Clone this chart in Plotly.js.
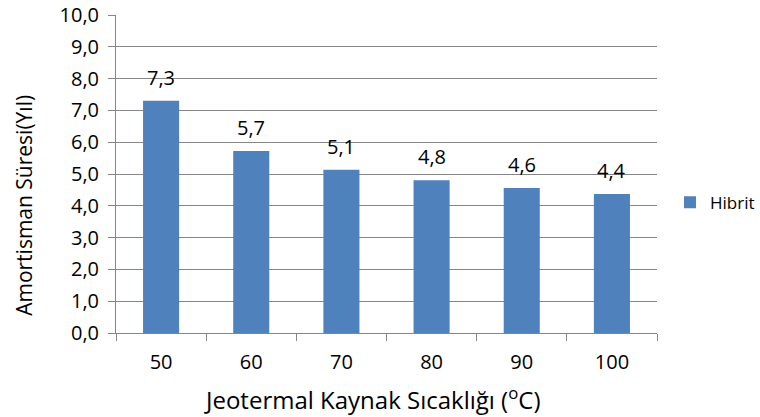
<!DOCTYPE html>
<html><head><meta charset="utf-8">
<script src="https://cdn.plot.ly/plotly-3.0.1.min.js"></script>
<style>body{margin:0;background:#fff}#c{width:760px;height:417px}</style>
</head><body><div id="c"></div>
<script>
const categories = ['50','60','70','80','90','100'];
const hibrit = [7.3, 5.72, 5.13, 4.8, 4.56, 4.37];
const seriesName = 'Hibrit';
const yTicks = [0,1,2,3,4,5,6,7,8,9,10];
const xTitle = 'Jeotermal Kaynak Sıcaklığı (<sup>o</sup>C)';
const yTitle = 'Amortisman Süresi(Yıl)';

const font = '"Open Sans", sans-serif';
const fmt = v => v.toFixed(1).replace('.', ',');

const annotations = categories.map((c, i) => ({
  x: i, y: hibrit[i], xref: 'x', yref: 'y', text: fmt(hibrit[i]),
  showarrow: false, yanchor: 'bottom', yshift: 8,
  font: {family: font, size: 20, color: '#000'}
}));
annotations.push({
  xref: 'paper', yref: 'paper', x: -0.17, y: 0.40, text: yTitle, textangle: -90,
  showarrow: false, xanchor: 'center', yanchor: 'middle',
  font: {family: font, size: 21, color: '#000'}
});
annotations.push({
  xref: 'paper', yref: 'paper', x: 0.475, y: -0.205, text: xTitle,
  showarrow: false, xanchor: 'center', yanchor: 'middle',
  font: {family: font, size: 24, color: '#000'}
});

Plotly.newPlot('c', [{
  type: 'bar', x: categories, y: hibrit, name: seriesName,
  marker: {color: '#4F81BD', line: {width: 0}},
  width: 0.4
}], {
  width: 760, height: 417,
  margin: {l: 116, r: 103, t: 15, b: 84, autoexpand: false},
  separators: ',.',
  showlegend: true,
  legend: {x: 1.024, y: 0.41, yanchor: 'middle', xanchor: 'left', font: {family: font, size: 17, color: '#000'}, itemwidth: 30},
  paper_bgcolor: '#fff', plot_bgcolor: '#fff',
  annotations: annotations,
  xaxis: {
    type: 'category', range: [-0.5, 5.5], showgrid: false, showline: true, linecolor: '#868686', linewidth: 1,
    ticks: 'outside', tickson: 'boundaries', ticklen: 7, tickcolor: '#868686',
    tickfont: {family: font, size: 20, color: '#000'}, ticklabelstandoff: 11, tickangle: 0
  },
  yaxis: {
    range: [0, 10], tickvals: yTicks, tickformat: '.1f',
    showgrid: true, gridcolor: '#868686', gridwidth: 1,
    showline: true, linecolor: '#868686', linewidth: 1,
    ticks: 'outside', ticklen: 7, tickcolor: '#868686',
    tickfont: {family: font, size: 20, color: '#000'}, ticklabelstandoff: 5,
    zeroline: false
  }
}, {displayModeBar: false, staticPlot: true});
</script></body></html>
